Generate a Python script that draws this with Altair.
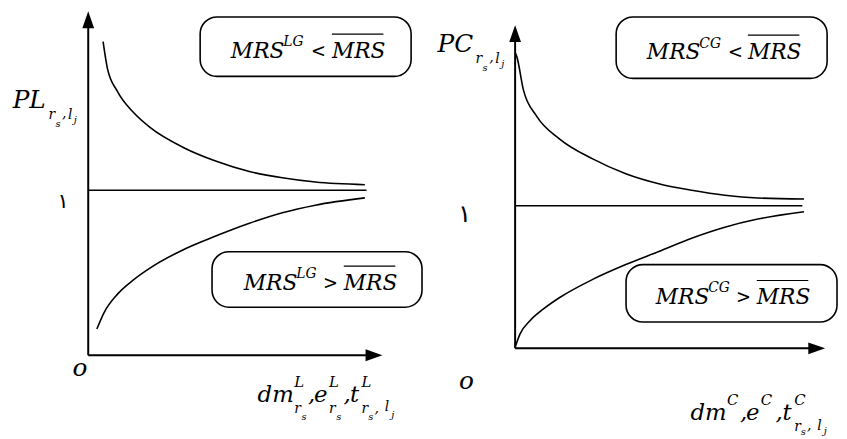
import altair as alt
import pandas as pd

# ---------------- data (panel units: origin = 0, the "١" level = 1) ----------------
# Left panel (PL)
L_upper_x = [0.505, 0.65, 0.987, 1.549, 2.111, 3.232, 4.354, 5.478, 6.599, 7.721, 9.404]
L_upper_y = [1.901, 1.741, 1.601, 1.470, 1.380, 1.260, 1.176, 1.114, 1.076, 1.050, 1.034]
L_lower_x = [0.293, 0.539, 0.987, 1.549, 2.111, 3.232, 4.354, 5.478, 6.599, 7.721, 9.404]
L_lower_y = [0.159, 0.259, 0.369, 0.459, 0.530, 0.640, 0.724, 0.800, 0.864, 0.910, 0.954]
L_level = 1.0
L_level_end = 9.46

# Right panel (PC)
R_upper_x = [0.016, 0.054, 0.265, 0.693, 1.438, 2.502, 3.569, 4.633, 5.696, 6.764, 7.827, 9.319]
R_upper_y = [2.066, 2.045, 1.814, 1.628, 1.467, 1.328, 1.224, 1.154, 1.108, 1.073, 1.054, 1.047]
R_lower_x = [0.0, 0.160, 0.479, 0.904, 1.438, 2.502, 3.569, 4.633, 5.696, 6.764, 7.827, 9.319]
R_lower_y = [0.008, 0.101, 0.193, 0.274, 0.356, 0.483, 0.587, 0.679, 0.772, 0.849, 0.906, 0.957]
R_level = 1.0
R_level_end = 9.265

# ---------------- layout (page pixels) ----------------
VIEW_W, VIEW_H, OFF = 839, 431, 8
SERIF = "DejaVu Serif"

# font sizes
BOX, BOXSUP, REL = 22, 14, 18
YL, SUB, SUB2 = 25, 14, 10
XL, XSUP = 23, 15
ORIG = 25

LEFT = dict(ox=89, oy=356.5, ux=29.7, uy=166.5,
            ytip=9.3, xtip=386,
            boxes=[(202, 15, 415, 75), (214, 252, 426, 308)],
            overlines=[(335, 387, 32.3), (347, 399, 266.5)],
            texts=[("MRS", 233, 56, BOX), ("LG", 286, 44, BOXSUP), ("<", 314, 55, REL), ("MRS", 335, 56, BOX),
                   ("MRS", 246, 290.7, BOX), ("LG", 299, 279, BOXSUP), (">", 326, 289.7, REL), ("MRS", 347, 290.7, BOX),
                   ("PL", 12.7, 106.7, YL), ("r", 49, 118, SUB), ("s", 56, 126, SUB2), (",", 62.5, 117, SUB),
                   ("l", 68.5, 117.7, SUB), ("j", 74.5, 122, SUB2),
                   ("o", 73, 377, ORIG),
                   ("dm", 260, 403.3, XL), ("L", 297, 389, XSUP), ("r", 297, 415, SUB), ("s", 304.3, 421.7, SUB2),
                   (",", 311, 403.3, XL), ("e", 317, 403.3, XL), ("L", 332, 389, XSUP), ("r", 332, 415, SUB),
                   ("s", 339.3, 421.7, SUB2), (",", 346.7, 403.3, XL), ("t", 353.3, 403.3, XL), ("L", 365, 389, XSUP),
                   ("r", 365, 415, SUB), ("s", 371.7, 421.7, SUB2), (",", 378, 415, SUB), ("l", 388.3, 413.3, SUB),
                   ("j", 395, 420, SUB2)],
            digit=("١", 63.5, 208, 21),
            upper=(L_upper_x, L_upper_y), lower=(L_lower_x, L_lower_y),
            level=L_level, level_end=L_level_end)

RIGHT = dict(ox=520, oy=349.5, ux=31.3, uy=144,
             ytip=23.3, xtip=833,
             boxes=[(622, 15, 835, 77), (632, 265, 845, 323)],
             overlines=[(755, 807, 33.3), (764, 816, 281)],
             texts=[("MRS", 653, 57.7, BOX), ("CG", 706, 46, BOXSUP), ("<", 735, 56.7, REL), ("MRS", 755, 57.7, BOX),
                    ("MRS", 662, 305, BOX), ("CG", 715, 293, BOXSUP), (">", 743, 304, REL), ("MRS", 764, 305, BOX),
                    ("PC", 441.7, 50, YL), ("r", 480, 61.3, SUB), ("s", 487, 69.3, SUB2), (",", 494, 60.3, SUB),
                    ("l", 500, 61, SUB), ("j", 506, 65.3, SUB2),
                    ("o", 463.3, 391, ORIG),
                    ("dm", 697, 421.5, XL), ("C", 734, 407.2, XSUP), (",", 747, 421.5, XL), ("e", 753, 421.5, XL),
                    ("C", 768, 407.2, XSUP), (",", 783, 421.5, XL), ("t", 790, 421.5, XL), ("C", 801.7, 407.2, XSUP),
                    ("r", 801.7, 432.5, SUB), ("s", 808.4, 437.5, SUB2), (",", 814.7, 431.5, SUB), ("l", 825, 431.5, SUB),
                    ("j", 831.7, 436.5, SUB2)],
             digit=("١", 469, 222, 25),
             upper=(R_upper_x, R_upper_y), lower=(R_lower_x, R_lower_y),
             level=R_level, level_end=R_level_end)

ARROW = "M0,-1L0.7,1L-0.7,1Z"
ARROW_SIZE = 289  # (2 * 8.5)^2


def panel(p):
    ox, oy, ux, uy = p["ox"], p["oy"], p["ux"], p["uy"]
    ux_ = lambda px: (px - ox) / ux
    uy_ = lambda py: (oy - py) / uy
    xdom = [ux_(OFF), ux_(OFF + VIEW_W)]
    ydom = [uy_(OFF + VIEW_H), uy_(OFF)]
    xs = alt.Scale(domain=xdom, nice=False, zero=False)
    ys = alt.Scale(domain=ydom, nice=False, zero=False)
    X = lambda f: alt.X(f, type="quantitative", scale=xs, axis=None)
    Y = lambda f: alt.Y(f, type="quantitative", scale=ys, axis=None)

    rows = []
    for name, (cx, cy) in (("upper", p["upper"]), ("lower", p["lower"])):
        for i, (a, b) in enumerate(zip(cx, cy)):
            rows.append(dict(curve=name, i=i, x=a, y=b))
    curves = alt.Chart(pd.DataFrame(rows)).mark_line(
        interpolate="monotone", color="black", strokeWidth=1.6
    ).encode(x=X("x"), y=Y("y"), detail="curve:N", order="i:Q")

    level = alt.Chart(pd.DataFrame([dict(x=0, x2=p["level_end"], y=p["level"])])).mark_rule(
        color="black", strokeWidth=1.6
    ).encode(x=X("x"), x2="x2:Q", y=Y("y"))

    ytop = uy_(p["ytip"] + 14)
    xend = ux_(p["xtip"] - 14)
    axes = alt.Chart(pd.DataFrame([
        dict(x=0, y=0, x2=0, y2=ytop),
        dict(x=0, y=0, x2=xend, y2=0),
    ])).mark_rule(color="black", strokeWidth=2).encode(x=X("x"), y=Y("y"), x2="x2:Q", y2="y2:Q")

    arrows = alt.Chart(pd.DataFrame([
        dict(x=0, y=uy_(p["ytip"] + 8.5), a=0),
        dict(x=ux_(p["xtip"] - 8.5), y=0, a=90),
    ])).mark_point(shape=ARROW, size=ARROW_SIZE, filled=True, color="black", opacity=1).encode(
        x=X("x"), y=Y("y"), angle=alt.Angle("a:Q", scale=None)
    )

    boxes = alt.Chart(pd.DataFrame([
        dict(x=ux_(a), x2=ux_(c), y=uy_(b), y2=uy_(d)) for a, b, c, d in p["boxes"]
    ])).mark_rect(cornerRadius=17, fill="white", stroke="black", strokeWidth=1.6).encode(
        x=X("x"), x2="x2:Q", y=Y("y"), y2="y2:Q"
    )

    overl = alt.Chart(pd.DataFrame([
        dict(x=ux_(a), x2=ux_(b), y=uy_(c)) for a, b, c in p["overlines"]
    ])).mark_rule(color="black", strokeWidth=1.1).encode(x=X("x"), x2="x2:Q", y=Y("y"))

    texts = alt.Chart(pd.DataFrame([
        dict(t=t, x=ux_(a), y=uy_(b), fs=s) for t, a, b, s in p["texts"]
    ])).mark_text(align="left", baseline="alphabetic", font=SERIF, fontStyle="italic", color="black").encode(
        x=X("x"), y=Y("y"), text="t:N", size=alt.Size("fs:Q", scale=None, legend=None)
    )

    t, a, b, s = p["digit"]
    digit = alt.Chart(pd.DataFrame([dict(t=t, x=ux_(a), y=uy_(b), fs=s)])).mark_text(
        align="center", baseline="alphabetic", font="DejaVu Sans", color="black"
    ).encode(x=X("x"), y=Y("y"), text="t:N", size=alt.Size("fs:Q", scale=None, legend=None))

    return alt.layer(boxes, overl, level, curves, axes, arrows, texts, digit)


chart = alt.layer(panel(LEFT), panel(RIGHT)).resolve_scale(
    x="independent", y="independent", size="independent", angle="independent"
).properties(
    width=VIEW_W, height=VIEW_H, padding=0, autosize=alt.AutoSizeParams(type="none")
).configure_view(strokeWidth=0)

chart.save("out.html", embed_options={"renderer": "svg", "actions": False})
